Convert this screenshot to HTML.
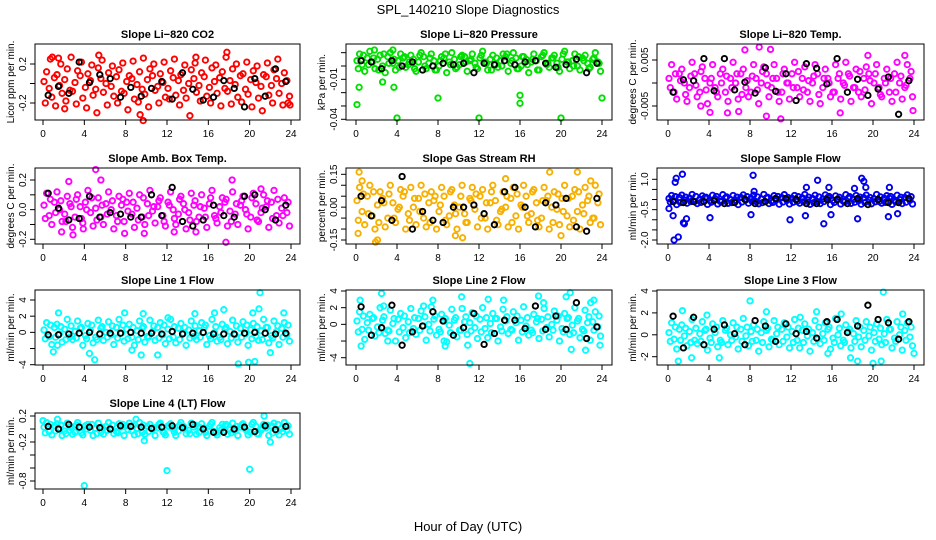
<!DOCTYPE html>
<html><head><meta charset="utf-8">
<style>
html,body{margin:0;padding:0;background:#fff;}
svg{display:block;font-family:"Liberation Sans",sans-serif;}
</style></head>
<body>
<svg id="chart" width="936" height="540" viewBox="0 0 936 540" xmlns="http://www.w3.org/2000/svg">
<text x="468" y="14" text-anchor="middle" font-size="13">SPL_140210  Slope Diagnostics</text>
<text x="468" y="531" text-anchor="middle" font-size="13">Hour of Day (UTC)</text>
</svg>
<script>
// ---------- data ----------
const co2A=[0.02,-0.05,0.06,-0.02,0.04,-0.07,0.01,0.08,-0.04,0.03,-0.06,0.05,0.00,-0.03,0.07,-0.08,0.02,0.05,-0.01,-0.06,0.04,0.08,-0.03,0.01,-0.05,0.06,0.03,-0.07,0.00,0.05,-0.02,0.07,-0.04,0.02,0.06,-0.05,0.03,-0.01,0.08,-0.06,0.04,0.01,-0.03,0.07,-0.02,0.05,0.00,0.03];
const co2B=[0.12,-0.14,0.09,-0.1,0.15,-0.08,0.13,-0.15,0.1,-0.12,0.16,-0.09,0.11,-0.13,0.14,-0.1,0.08,-0.16,0.12,-0.11,0.15,-0.07,0.1,-0.14,0.13,-0.12,0.09,-0.15,0.14,-0.09,0.11,-0.13,0.16,-0.1,0.12,-0.08,0.15,-0.14,0.1,-0.11,0.13,-0.15,0.09,-0.12,0.14,-0.1,0.11,-0.13];
const co2C=[-0.2,0.25,-0.23,0.2,-0.18,0.27,-0.21,0.22,-0.25,0.19,-0.3,0.24,-0.22,0.18,-0.2,0.21,-0.27,0.23,-0.19,0.26,-0.24,0.2,-0.2,0.22,-0.16,0.25,-0.22,0.19,-0.33,0.21,-0.18,0.24,-0.2,0.19,-0.23,0.27,-0.21,0.2,-0.19,0.22,-0.24,0.18,-0.28,0.21,-0.2,0.25,-0.22,-0.2];
const co2ExX=[9.7,9.4,23.9,17.8,14.8,2.1,0.9,5.4,1.5];
const co2ExY=[-0.38,-0.32,-0.22,0.32,0.27,-0.26,0.27,0.29,0.26];
const co2K=[-0.12,-0.03,-0.1,0.22,0.01,0.09,0.05,-0.14,-0.04,-0.13,-0.05,0.02,-0.16,0.11,-0.06,-0.17,-0.14,0.03,-0.05,-0.24,0.05,-0.13,0.15,0.02];

const presA=[0.004,0.001,0.006,0.003,0.005,0.000,0.007,0.002,0.004,0.006,0.001,0.005,0.003,0.007,0.002,0.004,0.000,0.006,0.003,0.005,0.001,0.007,0.004,0.002,0.006,0.003,0.005,0.001,0.004,0.007,0.002,0.006,0.000,0.005,0.003,0.004,0.007,0.001,0.006,0.002,0.005,0.003,0.004,0.000,0.006,0.002,0.005,0.003];
const presB=[0.009,-0.004,0.011,-0.002,0.008,-0.005,0.010,-0.003,0.009,-0.001,0.008,-0.004,0.010,-0.002,0.009,-0.003,0.007,-0.005,0.010,-0.001,0.008,-0.004,0.009,-0.002,0.011,-0.003,0.008,-0.001,0.009,-0.004,0.010,-0.002,0.007,-0.005,0.009,-0.003,0.010,-0.001,0.008,-0.004,0.011,-0.002,0.009,-0.003,0.008,-0.001,0.010,-0.004];
const presC=[-0.002,0.008,0.001,0.006,-0.003,0.009,0.002,0.005,-0.001,0.007,0.003,-0.002,0.008,0.000,0.006,-0.003,0.004,0.009,0.001,-0.002,0.007,0.003,0.005,-0.001,0.008,0.002,-0.003,0.006,0.000,0.009,0.004,-0.002,0.007,0.001,0.005,-0.003,0.008,0.002,0.006,-0.001,0.009,0.003,0.000,0.007,0.004,-0.002,0.006,0.002];
const presExX=[0.1,0.3,4.0,8.0,12.0,16.0,16.0,20.0,24.0,2.6,1.8,3.6,3.7];
const presExY=[-0.029,-0.016,-0.039,-0.024,-0.039,-0.022,-0.028,-0.039,-0.024,-0.012,0.012,0.012,-0.016];
const presK=[0.004,0.003,-0.002,0.004,0.000,0.003,-0.003,0.000,0.002,0.001,0.002,-0.005,0.002,0.001,0.004,0.001,0.003,0.004,0.002,-0.001,0.001,0.005,-0.005,0.002];

const tempA=[0.001,-0.002,0.002,0.000,-0.001,0.002,-0.002,0.001,0.000,-0.001,0.002,-0.002,0.001,0.000,0.002,-0.001,-0.002,0.001,0.000,0.002,-0.001,0.001,-0.002,0.000,0.002,-0.001,0.001,-0.002,0.000,0.002,-0.001,0.001,-0.002,0.001,0.000,0.002,-0.001,-0.002,0.001,0.002,0.000,-0.001,0.001,-0.002,0.002,0.000,-0.001,0.001];
const tempB=[0.004,-0.0035,0.003,-0.004,0.0045,-0.003,0.0035,-0.0045,0.004,-0.003,0.003,-0.004,0.0045,-0.0035,0.003,-0.003,0.004,-0.0045,0.0035,-0.003,0.004,-0.004,0.003,-0.0035,0.0045,-0.003,0.0035,-0.004,0.004,-0.0045,0.003,-0.003,0.004,-0.0035,0.0045,-0.004,0.003,-0.003,0.0035,-0.0045,0.004,-0.003,0.003,-0.004,0.0045,-0.0035,0.004,-0.003];
const tempC=[-0.001,0.002,0.0005,-0.0025,0.0015,-0.0005,0.0025,-0.0015,0.001,-0.002,0.0,0.0015,-0.001,0.002,-0.0025,0.0005,0.0015,-0.0015,0.0025,-0.0005,0.001,-0.002,0.002,0.0,-0.001,0.0025,-0.0015,0.0005,0.0015,-0.0025,0.001,0.0,-0.002,0.002,-0.0005,0.0015,-0.001,0.0025,-0.0015,0.0005,0.002,-0.0025,0.0,0.001,-0.002,0.0015,-0.0005,0.0025];
const tempExX=[7.5,8.9,10.0,11.0,9.6,6.9,4.1,19.5,23.1,23.9,16.8,5.8,3.2];
const tempExY=[0.0072,0.0078,0.0073,-0.0078,-0.0072,-0.0062,-0.0064,0.006,0.006,-0.006,-0.0065,-0.0065,-0.005];
const tempK=[-0.002,0.0007,0.0005,0.0053,-0.0017,0.0053,-0.0015,0.0002,-0.0022,0.0033,-0.0018,0.002,-0.0038,0.0042,0.0032,-0.0002,0.0053,-0.002,0.0008,-0.0027,-0.0013,0.0013,-0.0068,0.0005];

const ambA=[0.03,-0.04,0.05,0.00,-0.03,0.04,-0.05,0.02,0.05,-0.02,0.01,-0.05,0.04,0.00,-0.04,0.03,0.05,-0.03,0.01,-0.05,0.04,-0.01,0.02,-0.04,0.05,0.00,-0.03,0.04,-0.02,0.03,-0.05,0.01,0.04,-0.04,0.02,0.05,-0.01,-0.03,0.03,0.00,-0.05,0.04,-0.02,0.02,0.05,-0.04,0.01,-0.02];
const ambB=[0.11,-0.1,0.12,-0.08,0.09,-0.12,0.1,-0.09,0.13,-0.11,0.08,-0.1,0.12,-0.13,0.09,-0.08,0.11,-0.12,0.1,-0.1,0.13,-0.09,0.08,-0.11,0.12,-0.1,0.09,-0.13,0.11,-0.08,0.1,-0.12,0.13,-0.09,0.08,-0.11,0.12,-0.1,0.09,-0.13,0.11,-0.08,0.1,-0.12,0.13,-0.09,0.08,-0.11];
const ambC=[-0.06,0.07,-0.02,0.06,-0.08,0.02,0.07,-0.06,0.0,0.08,-0.07,0.03,-0.03,0.06,-0.08,0.07,-0.01,0.05,-0.07,0.08,-0.04,0.02,0.06,-0.08,0.03,-0.06,0.07,0.0,-0.07,0.06,0.02,-0.05,0.08,-0.06,-0.02,0.07,-0.08,0.04,0.06,-0.03,0.08,-0.07,0.01,0.06,-0.06,0.07,-0.04,0.05];
const ambExX=[5.1,2.5,5.6,17.7,18.3,1.8,2.9,9.8,12.7,14.8,21.1,3.9,7.9];
const ambExY=[0.27,0.19,0.2,-0.22,0.2,-0.15,-0.17,-0.16,-0.15,-0.15,0.14,-0.13,-0.16];
const ambK=[0.11,0.01,-0.07,-0.06,0.09,-0.05,-0.02,-0.03,-0.05,-0.05,0.1,-0.04,0.15,-0.08,-0.11,-0.07,0.03,-0.04,-0.05,0.09,0.1,0.0,-0.07,0.03];

const rhA=[0.03,-0.02,0.05,-0.04,0.01,0.04,-0.05,0.02,-0.01,0.05,-0.03,0.00,0.04,-0.05,0.02,0.03,-0.02,0.05,-0.04,0.01,0.00,-0.03,0.04,-0.01,0.05,-0.05,0.02,0.03,-0.02,0.00,0.04,-0.04,0.01,0.05,-0.03,0.02,-0.05,0.03,0.00,-0.01,0.04,-0.04,0.05,-0.02,0.01,0.03,-0.05,0.02];
const rhB=[0.09,-0.08,0.1,-0.1,0.07,-0.09,0.1,-0.07,0.08,-0.1,0.09,-0.08,0.1,-0.09,0.07,-0.1,0.09,-0.08,0.08,-0.1,0.1,-0.07,0.09,-0.09,0.08,-0.1,0.1,-0.08,0.07,-0.09,0.09,-0.1,0.1,-0.07,0.08,-0.09,0.09,-0.1,0.07,-0.08,0.1,-0.09,0.08,-0.1,0.09,-0.07,0.1,-0.08];
const rhC=[-0.06,0.06,-0.03,0.07,-0.07,0.02,0.06,-0.05,0.0,0.07,-0.06,0.04,-0.02,0.06,-0.07,0.05,0.01,-0.06,0.07,-0.03,0.05,-0.07,0.03,0.06,-0.05,0.02,0.07,-0.06,-0.01,0.05,-0.07,0.06,0.0,-0.04,0.07,-0.06,0.03,0.05,-0.07,0.06,-0.02,0.04,-0.06,0.07,-0.03,0.05,-0.05,0.06];
const rhExX=[0.3,0.6,2.1,1.9,9.7,10.4,18.9,21.6,20.0,0.2,14.6,22.9];
const rhExY=[0.16,0.12,-0.15,-0.16,-0.13,-0.14,0.16,0.16,-0.13,-0.12,0.13,0.12];
const rhK=[0.05,-0.04,0.03,-0.06,0.14,-0.1,-0.02,-0.06,-0.07,0.0,0.0,0.01,-0.03,-0.08,0.07,0.09,0.0,-0.09,0.02,0.01,0.04,-0.09,-0.11,0.04];

const sfA=[0.05,-0.08,0.1,-0.03,0.07,-0.1,0.02,0.09,-0.06,0.04,-0.09,0.08,0.0,-0.05,0.1,-0.02,0.06,-0.1,0.03,0.08,-0.07,0.01,0.09,-0.04,0.06,-0.09,0.08,-0.02,0.05,-0.1,0.03,0.1,-0.05,0.02,-0.08,0.07,0.01,-0.06,0.09,-0.03,0.04,-0.1,0.06,0.07,-0.06,0.0,0.1,-0.04];
const sfB=[0.2,-0.25,0.22,-0.18,0.25,-0.2,0.18,-0.24,0.21,-0.22,0.24,-0.19,0.2,-0.25,0.23,-0.18,0.22,-0.21,0.25,-0.2,0.19,-0.23,0.24,-0.22,0.2,-0.18,0.25,-0.24,0.21,-0.2,0.23,-0.25,0.18,-0.22,0.24,-0.19,0.2,-0.23,0.22,-0.21,0.25,-0.18,0.19,-0.24,0.21,-0.2,0.23,-0.22];
const sfC=[-0.12,0.14,-0.15,0.12,-0.1,0.15,-0.14,0.11,-0.13,0.15,-0.11,0.13,-0.15,0.12,-0.12,0.14,-0.1,0.13,-0.15,0.11,-0.14,0.15,-0.12,0.1,-0.13,0.14,-0.11,0.12,-0.15,0.13,-0.1,0.15,-0.14,0.11,-0.12,0.14,-0.13,0.12,-0.15,0.1,-0.11,0.13,-0.14,0.15,-0.12,0.11,-0.13,0.14];
const sfExX=[0.6,0.7,0.8,1.0,1.4,1.5,1.6,0.5,0.1,1.8,4.1,8.1,8.3,8.4,11.9,13.4,13.5,14.6,15.2,15.7,15.9,18.9,19.1,19.3,21.5,21.6,22.4,18.5,18.2];
const sfExY=[-2.0,0.85,1.05,-1.85,1.25,-1.15,-1.2,-0.8,-0.45,-0.95,-0.9,-0.75,1.2,0.4,-1.0,-0.8,0.6,0.95,-1.2,0.6,-0.75,1.05,0.9,0.6,-0.85,0.6,-0.7,-0.95,0.55];
const sfK=[-0.1,-0.15,-0.1,-0.1,-0.05,-0.2,-0.15,0.0,-0.2,-0.1,0.05,0.05,0.0,-0.2,-0.2,0.0,0.0,-0.2,0.05,-0.25,0.0,-0.15,-0.15,0.05];

const l1A=[0.3,-0.5,0.6,-0.2,0.4,-0.6,0.1,0.5,-0.4,0.2,-0.6,0.5,0.0,-0.3,0.6,-0.1,0.4,-0.6,0.2,0.5,-0.5,0.1,0.6,-0.3,0.4,-0.6,0.5,-0.1,0.3,-0.5,0.2,0.6,-0.4,0.0,-0.6,0.4,0.1,-0.3,0.5,-0.2,0.3,-0.5,0.2,0.6,-0.4,0.1,0.5,-0.3];
const l1B=[1.2,-1.5,1.0,-1.2,1.6,-0.9,1.4,-1.6,1.1,-1.3,1.5,-1.0,1.3,-1.5,1.6,-1.1,1.0,-1.6,1.4,-1.2,1.5,-1.0,1.2,-1.4,1.6,-1.3,1.1,-1.6,1.4,-0.9,1.2,-1.5,1.6,-1.1,1.0,-1.4,1.5,-1.2,1.3,-1.6,1.1,-1.0,1.6,-1.3,1.4,-1.5,1.2,-1.1];
const l1C=[-0.8,0.9,-0.6,0.7,-0.9,0.8,-0.7,0.6,-0.8,0.9,-0.9,0.7,-0.6,0.8,-0.7,0.9,-0.8,0.6,-0.9,0.7,-0.6,0.8,-0.7,0.9,-0.8,0.7,-0.9,0.6,-0.7,0.8,-0.6,0.9,-0.8,0.7,-0.9,0.6,-0.7,0.8,-0.6,0.9,-0.8,0.7,-0.9,0.6,-0.7,0.8,-0.6,0.9];
const l1ExX=[1.5,1.4,1.0,4.5,5.0,7.9,8.6,9.5,11.1,12.1,18.9,19.9,20.5,21.0,20.9,20.3,17.5,16.6,22.0,23.3,14.7,9.7];
const l1ExY=[2.4,-1.6,-2.4,-2.6,-3.4,2.4,-2.2,-2.8,-2.8,1.8,-3.9,-3.7,-3.6,4.9,2.9,2.4,2.8,2.4,-2.5,2.4,2.3,2.3];
const l1K=[-0.3,-0.3,-0.2,-0.1,0.0,-0.2,-0.1,-0.1,0.0,-0.1,-0.1,-0.2,0.1,-0.2,-0.1,0.0,-0.2,-0.2,-0.2,-0.1,0.0,-0.1,-0.2,-0.1];

const l2A=[0.4,-0.6,0.2,0.7,-0.3,0.5,-0.7,0.1,0.6,-0.4,0.3,-0.5,0.7,-0.2,0.0,0.6,-0.6,0.4,-0.1,0.5,-0.7,0.3,0.2,-0.4,0.6,-0.5,0.1,0.7,-0.3,0.4,-0.6,0.2,0.5,-0.2,-0.7,0.3,0.6,-0.4,0.0,0.5,-0.5,0.7,-0.1,0.4,-0.6,0.2,0.3,-0.3];
const l2B=[1.5,-1.8,1.2,-1.4,2.0,-1.1,1.7,-2.0,1.3,-1.6,1.9,-1.2,1.6,-1.9,2.1,-1.3,1.2,-2.1,1.8,-1.5,1.9,-1.2,1.4,-1.7,2.0,-1.6,1.3,-2.0,1.8,-1.1,1.5,-1.9,2.1,-1.3,1.2,-1.7,1.9,-1.5,1.6,-2.0,1.3,-1.2,2.0,-1.6,1.7,-1.9,1.5,-1.4];
const l2C=[-0.9,1.0,-0.7,0.8,-1.0,0.9,-0.8,0.7,-0.9,1.0,-1.0,0.8,-0.7,0.9,-0.8,1.0,-0.9,0.7,-1.0,0.8,-0.7,0.9,-0.8,1.0,-0.9,0.8,-1.0,0.7,-0.8,0.9,-0.7,1.0,-0.9,0.8,-1.0,0.7,-0.8,0.9,-0.7,1.0,-0.9,0.8,-1.0,0.7,-0.8,0.9,-0.7,1.0];
const l2ExX=[0.4,0.5,2.5,2.7,8.7,8.6,10.3,10.9,11.1,12.9,14.4,17.8,18.3,20.5,20.9,21.0,22.4,22.9,23.2,23.8,6.6,7.5,3.1];
const l2ExY=[2.9,-2.6,3.7,2.2,-2.6,-2.0,3.3,-2.5,-4.7,3.0,2.9,3.4,2.6,3.3,3.8,-3.0,-3.1,2.6,2.9,-2.5,2.2,2.9,-2.0];
const l2K=[2.1,-1.3,-0.4,2.3,-2.5,-0.9,-0.2,1.5,0.4,-1.3,-0.4,1.3,-2.4,-1.1,0.5,0.5,-0.5,2.2,-0.6,1.0,-0.6,2.6,-1.7,-0.3];

const l3A=[0.2,-0.4,0.5,-0.1,0.3,-0.5,0.1,0.4,-0.3,0.2,-0.5,0.4,0.0,-0.2,0.5,-0.1,0.3,-0.5,0.2,0.4,-0.4,0.1,0.5,-0.2,0.3,-0.5,0.4,-0.1,0.2,-0.4,0.1,0.5,-0.3,0.0,-0.5,0.3,0.1,-0.2,0.4,-0.1,0.2,-0.4,0.1,0.5,-0.3,0.0,0.4,-0.2];
const l3B=[1.1,-1.3,0.9,-1.0,1.4,-0.8,1.2,-1.4,1.0,-1.1,1.3,-0.9,1.1,-1.3,1.5,-1.0,0.9,-1.5,1.2,-1.1,1.3,-0.9,1.1,-1.2,1.4,-1.2,1.0,-1.5,1.3,-0.8,1.1,-1.3,1.5,-1.0,0.9,-1.2,1.3,-1.1,1.2,-1.4,1.0,-0.9,1.4,-1.2,1.2,-1.4,1.1,-1.0];
const l3C=[-0.6,0.7,-0.5,0.6,-0.7,0.6,-0.6,0.5,-0.7,0.7,-0.7,0.6,-0.5,0.7,-0.6,0.7,-0.6,0.5,-0.7,0.6,-0.5,0.7,-0.6,0.7,-0.7,0.6,-0.7,0.5,-0.6,0.7,-0.5,0.7,-0.7,0.6,-0.7,0.5,-0.6,0.7,-0.5,0.7,-0.6,0.6,-0.7,0.5,-0.6,0.7,-0.5,0.7];
const l3ExX=[1.0,1.4,2.3,5.0,8.0,9.6,14.5,15.6,16.9,17.8,18.5,20.0,20.8,21.0,22.9,24.0,3.8,12.9];
const l3ExY=[-2.4,2.2,-2.1,-2.1,3.1,2.1,2.1,-1.7,1.9,-2.1,-2.4,-2.6,-2.4,3.9,1.9,-1.7,1.8,1.6];
const l3K=[1.7,-1.2,1.6,-0.9,0.5,0.9,0.1,-0.9,1.3,0.8,-0.6,1.0,0.1,0.3,-0.3,1.2,1.4,0.2,0.8,2.7,1.4,1.1,-0.4,1.2];

const l4A=[0.03,-0.04,0.05,0.0,-0.03,0.04,-0.05,0.02,0.05,-0.02,0.01,-0.05,0.04,0.0,-0.04,0.03,0.05,-0.03,0.01,-0.05,0.04,-0.01,0.02,-0.04,0.05,0.0,-0.03,0.04,-0.02,0.03,-0.05,0.01,0.04,-0.04,0.02,0.05,-0.01,-0.03,0.03,0.0,-0.05,0.04,-0.02,0.02,0.05,-0.04,0.01,-0.02];
const l4B=[0.1,-0.09,0.08,-0.1,0.09,-0.08,0.1,-0.09,0.07,-0.1,0.09,-0.08,0.1,-0.07,0.08,-0.1,0.09,-0.09,0.1,-0.08,0.07,-0.1,0.09,-0.09,0.08,-0.1,0.1,-0.07,0.09,-0.08,0.08,-0.1,0.1,-0.09,0.07,-0.08,0.09,-0.1,0.08,-0.09,0.1,-0.08,0.07,-0.1,0.09,-0.09,0.1,-0.08];
const l4C=[-0.06,0.07,-0.03,0.06,-0.07,0.02,0.06,-0.06,0.0,0.07,-0.07,0.03,-0.02,0.06,-0.06,0.07,-0.01,0.05,-0.07,0.06,-0.04,0.02,0.07,-0.06,0.03,-0.05,0.06,0.0,-0.07,0.06,0.02,-0.05,0.07,-0.06,-0.02,0.07,-0.06,0.04,0.06,-0.03,0.07,-0.07,0.01,0.06,-0.06,0.07,-0.04,0.05];
const l4ExX=[4.0,12.0,20.0,1.4,9.0,21.4,22.0,9.8,0.0];
const l4ExY=[-0.87,-0.64,-0.62,0.15,0.15,0.2,-0.2,-0.18,0.13];
const l4K=[0.04,0.0,0.07,0.03,0.03,0.02,0.0,0.05,0.04,0.03,0.01,0.03,0.05,0.02,0.07,0.0,-0.05,-0.05,0.0,0.03,-0.04,0.05,-0.01,0.04];

const xTickValues=[0,4,8,12,16,20,24];

// time categories (hours of day)
const timesA=[],timesB=[],timesC=[],timesK=[];
for(let i=0;i<48;i++){timesA.push(i*0.5+0.1);timesB.push(i*0.5+0.35);timesC.push(i*0.5+0.22);}
for(let i=0;i<24;i++){timesK.push(i+0.5);}

// ---------- layout ----------
const cols=[{l:35,r:300,x0:43,x24:291,yl:10},{l:346,r:612,x0:356,x24:602,yl:321},{l:657,r:924,x0:668,x24:914,yl:632}];
const rows=[{t:44,b:120},{t:168,b:244},{t:290,b:365},{t:413,b:489}];

const panels=[
 {name:'co2',title:'Slope Li\u2212820 CO2',ylab:'Licor ppm per min.',color:'#ff0000',c:0,r:0,v1:0.2,p1:64,v2:-0.2,p2:103,ticks:[-0.2,0,0.2],labels:['-0.2','0.0','0.2'],show:[1,0,1],A:co2A,B:co2B,C:co2C,EX:co2ExX,EY:co2ExY,K:co2K},
 {name:'pressure',title:'Slope Li\u2212820 Pressure',ylab:'kPa per min.',color:'#00e000',c:1,r:0,v1:0,p1:66,v2:-0.04,p2:119.3,ticks:[0.01,0,-0.01,-0.02,-0.03,-0.04],labels:['','','-0.01','','','-0.04'],show:[0,0,1,0,0,1],A:presA,B:presB,C:presC,EX:presExX,EY:presExY,K:presK},
 {name:'temp',title:'Slope Li\u2212820 Temp.',ylab:'degrees C per min.',color:'#ff00ff',c:2,r:0,v1:0.005,p1:60,v2:-0.005,p2:106,ticks:[0.005,0,-0.005],labels:['0.005','','-0.005'],show:[1,0,1],A:tempA,B:tempB,C:tempC,EX:tempExX,EY:tempExY,K:tempK},
 {name:'amb-box-temp',title:'Slope Amb. Box Temp.',ylab:'degrees C per min.',color:'#ff00ff',c:0,r:1,v1:0.2,p1:180,v2:-0.2,p2:239.3,ticks:[0.2,0.1,0,-0.1,-0.2],labels:['0.2','','0.0','','-0.2'],show:[1,0,1,0,1],A:ambA,B:ambB,C:ambC,EX:ambExX,EY:ambExY,K:ambK},
 {name:'gas-stream-rh',title:'Slope Gas Stream RH',ylab:'percent per min.',color:'#f7b000',c:1,r:1,v1:0.15,p1:174.3,v2:-0.15,p2:240,ticks:[0.15,0.1,0.05,0,-0.05,-0.1,-0.15],labels:['0.15','','','0.00','','','-0.15'],show:[1,0,0,1,0,0,1],A:rhA,B:rhB,C:rhC,EX:rhExX,EY:rhExY,K:rhK},
 {name:'sample-flow',title:'Slope Sample Flow',ylab:'ml/min per min.',color:'#0000ee',c:2,r:1,v1:1.0,p1:179.3,v2:-2.0,p2:240,ticks:[1,0.5,0,-0.5,-1,-1.5,-2],labels:['1.0','','','-0.5','','','-2.0'],show:[1,0,0,1,0,0,1],A:sfA,B:sfB,C:sfC,EX:sfExX,EY:sfExY,K:sfK},
 {name:'line1-flow',title:'Slope Line 1 Flow',ylab:'ml/min per min.',color:'#00ffff',c:0,r:2,v1:4,p1:300,v2:-4,p2:364.7,ticks:[4,2,0,-2,-4],labels:['4','2','0','','-4'],show:[1,1,1,0,1],A:l1A,B:l1B,C:l1C,EX:l1ExX,EY:l1ExY,K:l1K},
 {name:'line2-flow',title:'Slope Line 2 Flow',ylab:'ml/min per min.',color:'#00ffff',c:1,r:2,v1:4,p1:291,v2:-4,p2:357.7,ticks:[4,2,0,-2,-4],labels:['4','2','0','','-4'],show:[1,1,1,0,1],A:l2A,B:l2B,C:l2C,EX:l2ExX,EY:l2ExY,K:l2K},
 {name:'line3-flow',title:'Slope Line 3 Flow',ylab:'ml/min per min.',color:'#00ffff',c:2,r:2,v1:4,p1:291,v2:-2,p2:356.7,ticks:[4,2,0,-2],labels:['4','2','0','-2'],show:[1,1,1,1],A:l3A,B:l3B,C:l3C,EX:l3ExX,EY:l3ExY,K:l3K},
 {name:'line4-flow',title:'Slope Line 4 (LT) Flow',ylab:'ml/min per min.',color:'#00ffff',c:0,r:3,v1:0.2,p1:416,v2:-0.8,p2:481,ticks:[0.2,0,-0.2,-0.4,-0.6,-0.8],labels:['0.2','','-0.2','','','-0.8'],show:[1,0,1,0,0,1],A:l4A,B:l4B,C:l4C,EX:l4ExX,EY:l4ExY,K:l4K}
];

const NS='http://www.w3.org/2000/svg';
const svg=document.getElementById('chart');
function mk(tag,attrs,parent){const e=document.createElementNS(NS,tag);for(const k in attrs)e.setAttribute(k,attrs[k]);(parent||svg).appendChild(e);return e;}

panels.forEach(p=>{
  const col=cols[p.c], row=rows[p.r];
  const g=mk('g',{});
  
  
  const xs=v=>col.x0+(col.x24-col.x0)*v/24;
  const ys=v=>p.p1+(p.p2-p.p1)*(v-p.v1)/(p.v2-p.v1);
  const pts=mk('g',{fill:'none','stroke-width':'1.9'},g);
  
  
  const dot=(x,y,color,nm)=>{
    const c=mk('circle',{cx:xs(x).toFixed(1),cy:ys(y).toFixed(1),r:'2.7',stroke:color},pts);
    
    
  };
  p.B.forEach((v,i)=>dot(timesB[i],v,p.color,'point-wide'));
  p.C.forEach((v,i)=>dot(timesC[i],v,p.color,'point-mid'));
  p.A.forEach((v,i)=>dot(timesA[i],v,p.color,'point-core'));
  p.EX.forEach((x,i)=>dot(x,p.EY[i],p.color,'point-outlier'));
  p.K.forEach((v,i)=>dot(timesK[i],v,'#000','point-hourly-mean'));
  const box=mk('rect',{x:col.l,y:row.t,width:col.r-col.l,height:row.b-row.t,fill:'none',stroke:'#000','stroke-width':'1'},g);
  
  
  const t=mk('text',{x:(col.l+col.r)/2,y:row.t-6,'text-anchor':'middle','font-size':'11','font-weight':'bold'},g);
  t.textContent=p.title;
  
  
  const xa=mk('g',{},g);
  
  
  mk('line',{x1:xs(0),x2:xs(24),y1:row.b,y2:row.b,stroke:'#000'},xa);
  xTickValues.forEach(v=>{
    mk('line',{x1:xs(v),x2:xs(v),y1:row.b,y2:row.b+5,stroke:'#000'},xa);
    const tl=mk('text',{x:xs(v),y:row.b+17,'text-anchor':'middle','font-size':'10'},xa);
    tl.textContent=String(v);
    
    
  });
  const ya=mk('g',{},g);
  
  
  const yt=p.ticks.map(ys);
  mk('line',{x1:col.l,x2:col.l,y1:Math.min(...yt),y2:Math.max(...yt),stroke:'#000'},ya);
  p.ticks.forEach((v,i)=>{
    const y=ys(v);
    mk('line',{x1:col.l-5,x2:col.l,y1:y,y2:y,stroke:'#000'},ya);
    if(p.show[i]){
      const lx=col.l-9;
      const tl=mk('text',{x:lx,y:y,'text-anchor':'middle','font-size':'10',transform:'rotate(-90 '+lx+' '+y+')'},ya);
      tl.textContent=p.labels[i];
      
      
    }
  });
  const cy=(row.t+row.b)/2;
  const yl=mk('text',{x:col.yl+4,y:cy,'text-anchor':'middle','font-size':'10',transform:'rotate(-90 '+(col.yl+4)+' '+cy+')'},g);
  yl.textContent=p.ylab;
  
  
});
</script>
</body></html>
